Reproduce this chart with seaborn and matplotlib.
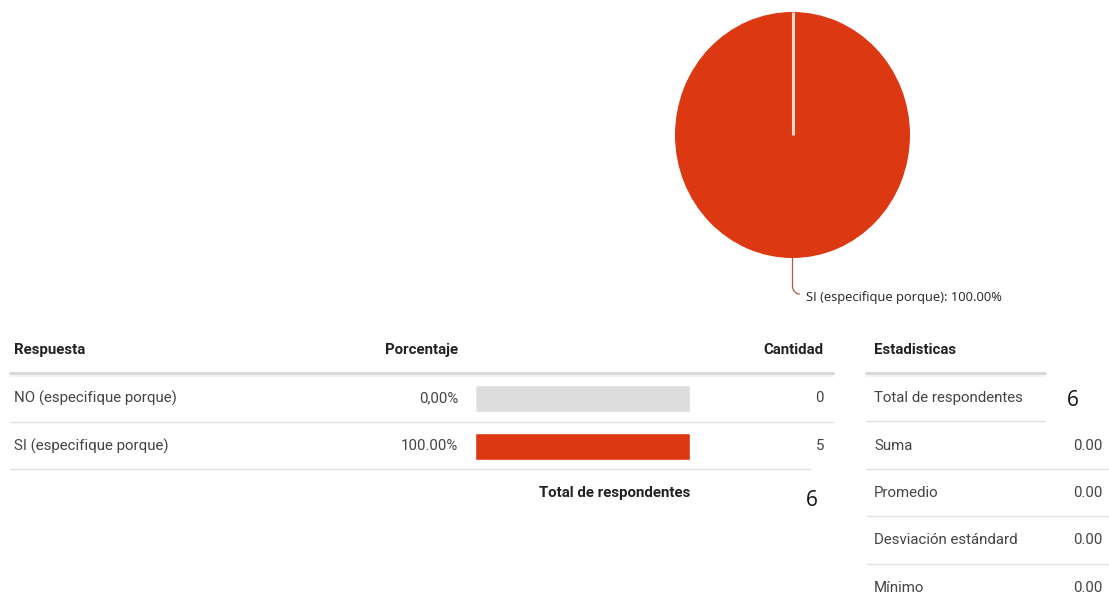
import matplotlib
matplotlib.use("Agg")
import matplotlib.pyplot as plt
import seaborn as sns
import pandas as pd
import numpy as np

# Survey answer summary
categories = ["NO (especifique porque)", "SI (especifique porque)"]
percentages = [0.0, 100.0]
percentage_labels = ["0,00%", "100.00%"]
counts = [0, 5]
total_respondents = 6

stat_names = ["Total de respondentes", "Suma", "Promedio", "Desviación estándard", "Mínimo"]
stat_values = [6, 0.00, 0.00, 0.00, 0.00]

pie_label = "SI (especifique porque): 100.00%"

RED = "#dc3912"
TRACK = "#dddddd"
INK = "#222222"
TEXT = "#444444"
RULE = "#e2e2e2"
FS = 10.8

sns.set_theme(style="white")
plt.rcParams["font.family"] = ["Roboto", "DejaVu Sans"]

W, H = 1109, 608
fig = plt.figure(figsize=(W / 100, H / 100), dpi=100)
fig.patch.set_facecolor("white")

# canvas axes in pixel units (y downwards)
bg = fig.add_axes([0, 0, 1, 1])
bg.set_xlim(0, W)
bg.set_ylim(H, 0)
bg.axis("off")


def px_box(x0, y0, x1, y1):
    return [x0 / W, (H - y1) / H, (x1 - x0) / W, (y1 - y0) / H]


# ---- pie ----
pie_x0, pie_y0, pie_x1, pie_y1 = 675, 12, 910, 258
pie_ax = fig.add_axes(px_box(pie_x0, pie_y0, pie_x1, pie_y1))
pie_vals = [p for p in percentages if p > 0]
pie_ax.pie(pie_vals, colors=[RED], startangle=90, counterclock=False,
           wedgeprops=dict(linewidth=0))
pie_ax.set_aspect("auto")
pie_ax.set_xlim(-1, 1)
pie_ax.set_ylim(-1, 1)
# slice boundary from the top of the circle down to the centre
pie_ax.plot([0, 0], [0, 1], color="#ffd8c8", lw=2.2, solid_capstyle="butt")
pie_ax.axis("off")

# leader line below the pie to its label
cx = (pie_x0 + pie_x1) / 2
t = np.linspace(0, np.pi / 2, 20)
lx = np.concatenate([[cx, cx], cx + 7 * (1 - np.cos(t))])
ly = np.concatenate([[pie_y1, pie_y1 + 28], pie_y1 + 28 + 8 * np.sin(t)])
bg.plot(lx, ly, color="#b05a40", lw=0.9)
bg.text(cx + 13, pie_y1 + 39, pie_label, fontsize=9.3, color=INK,
        ha="left", va="center", family=["Open Sans", "DejaVu Sans"])

# ---- response table ----
row_y = [398, 446]
hdr_y = 350
bg.text(14, hdr_y, "Respuesta", fontsize=FS, fontweight="bold", color=INK, va="center")
bg.text(458, hdr_y, "Porcentaje", fontsize=FS, fontweight="bold", color=INK,
        va="center", ha="right")
bg.text(824, hdr_y, "Cantidad", fontsize=FS, fontweight="bold", color=INK,
        va="center", ha="right")
bg.plot([10, 833], [373, 373], color="#d9d9d9", lw=2.2)
bg.plot([10, 833], [375.5, 375.5], color="#f0f0f0", lw=1.2)
bg.plot([10, 833], [421.5, 421.5], color=RULE, lw=1.0)
bg.plot([10, 810], [469, 469], color=RULE, lw=1.0)

for y, cat, plab, n in zip(row_y, categories, percentage_labels, counts):
    bg.text(14, y, cat, fontsize=FS, color=TEXT, va="center")
    bg.text(458, y, plab, fontsize=FS, color=TEXT, va="center", ha="right")
    bg.text(824, y, str(n), fontsize=FS, color=TEXT, va="center", ha="right")

bg.text(690, 493, "Total de respondentes", fontsize=FS, fontweight="bold",
        color=INK, va="center", ha="right")
bg.text(806, 500, str(total_respondents), fontsize=15, color="#111111",
        va="center", ha="left", family=["Open Sans", "DejaVu Sans"])

# percentage bars: grey track with the red share drawn on top
bar_ax = fig.add_axes(px_box(475, 374, 690, 470))
df = pd.DataFrame({"Respuesta": categories, "Porcentaje": percentages,
                   "Pista": [100.0] * len(categories)})
sns.barplot(data=df, y="Respuesta", x="Pista", color=TRACK, width=27 / 48,
            orient="h", ax=bar_ax, saturation=1)
sns.barplot(data=df, y="Respuesta", x="Porcentaje", color=RED, width=27 / 48,
            orient="h", ax=bar_ax, saturation=1)
bar_ax.set_xlim(0, 100)
bar_ax.set_ylim(1.5, -0.5)
bar_ax.axis("off")

# ---- statistics panel ----
sx = 874
bg.text(sx, hdr_y, "Estadisticas", fontsize=FS, fontweight="bold", color=INK, va="center")
bg.plot([866, 1045], [373, 373], color="#d9d9d9", lw=2.2)
bg.plot([866, 1045], [375.5, 375.5], color="#f0f0f0", lw=1.2)
stat_y = [398, 446, 493, 540, 588]
rule_y = [421, 469, 516, 564]
rule_x1 = [1045, 1109, 1109, 1109]
for ry, rx1 in zip(rule_y, rule_x1):
    bg.plot([866, rx1], [ry, ry], color=RULE, lw=1.0)

for i, (y, name, val) in enumerate(zip(stat_y, stat_names, stat_values)):
    bg.text(sx, y, name, fontsize=FS, color=TEXT, va="center")
    if i == 0:
        bg.text(1067, y + 2, f"{int(val)}", fontsize=15, color="#111111",
                va="center", ha="left", family=["Open Sans", "DejaVu Sans"])
    else:
        bg.text(1102, y, f"{val:.2f}", fontsize=FS, color=TEXT, va="center", ha="right")

fig.savefig("out.png", dpi=100, facecolor="white")
